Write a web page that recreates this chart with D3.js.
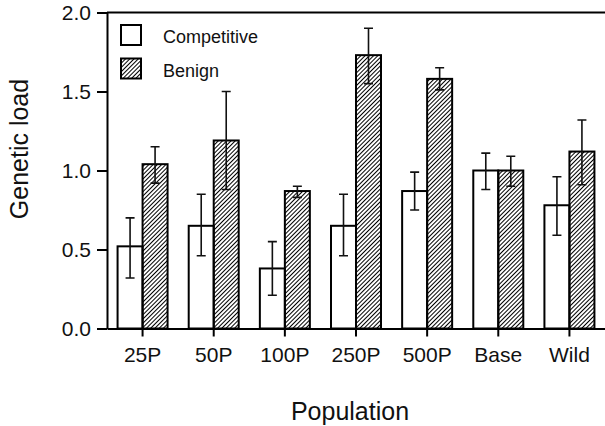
<!DOCTYPE html>
<html>
<head>
<meta charset="utf-8">
<script src="https://cdn.jsdelivr.net/npm/d3@7"></script>
<style>
  body { margin: 0; background: #fff; }
  svg { display: block; font-family: "Liberation Sans", Arial, Helvetica, sans-serif; }
  .axis path, .axis line { stroke: #000; stroke-width: 2; }
  .axis text { font-size: 21px; fill: #111; }
  .bar { stroke: #000; stroke-width: 2; }
  .err { stroke: #111; stroke-width: 1.6; fill: none; }
</style>
</head>
<body>
<div id="chart"></div>
<script>
// Values.
var categories = ['25P', '50P', '100P', '250P', '500P', 'Base', 'Wild'];
var seriesNames = ['Competitive', 'Benign'];

var competitive   = [0.52, 0.65, 0.38, 0.65, 0.87, 1.00, 0.78];
var competitiveLo = [0.32, 0.46, 0.21, 0.46, 0.75, 0.88, 0.59];
var competitiveHi = [0.70, 0.85, 0.55, 0.85, 0.99, 1.11, 0.96];

var benign   = [1.04, 1.19, 0.87, 1.73, 1.58, 1.00, 1.12];
var benignLo = [0.92, 0.88, 0.83, 1.55, 1.51, 0.90, 0.91];
var benignHi = [1.15, 1.50, 0.90, 1.90, 1.65, 1.09, 1.32];

var yTicks = [0, 0.5, 1.0, 1.5, 2.0];

;(function() {
  'use strict';

  var width = 605, height = 426;
  var margin = {top: 12.5, right: 0, bottom: 97.5, left: 107};

  var svg = d3.select('#chart').append('svg')
      .attr('width', width)
      .attr('height', height);

  // Diagonal hatch for the "Benign" bars.
  var defs = svg.append('defs');
  defs.append('pattern')
      .attr('id', 'hatch')
      .attr('patternUnits', 'userSpaceOnUse')
      .attr('width', 3)
      .attr('height', 3)
      .attr('patternTransform', 'rotate(45)')
    .append('line')
      .attr('x1', 0.5).attr('y1', 0)
      .attr('x2', 0.5).attr('y2', 3)
      .attr('stroke', '#000')
      .attr('stroke-width', 1);

  var rows = categories.map(function(c, i) {
    return {
      group: c,
      values: [
        {key: 'Competitive', v: competitive[i], lo: competitiveLo[i], hi: competitiveHi[i]},
        {key: 'Benign', v: benign[i], lo: benignLo[i], hi: benignHi[i]}
      ]
    };
  });

  var x0 = d3.scaleBand()
      .domain(categories)
      .range([margin.left, width - margin.right])
      .padding(0);

  var x1 = d3.scaleBand()
      .domain(seriesNames)
      .range([0, 50]);

  var y = d3.scaleLinear()
      .domain([0, 2])
      .range([height - margin.bottom, margin.top]);

  var fillFor = function(key) { return key === 'Benign' ? 'url(#hatch)' : '#fff'; };

  // Bars.
  var groups = svg.append('g').selectAll('g')
      .data(rows)
      .enter().append('g')
      .attr('transform', function(d) {
        return 'translate(' + (x0(d.group) + x0.bandwidth() / 2 - 25) + ',0)';
      });

  groups.selectAll('rect')
      .data(function(d) { return d.values; })
      .enter().append('rect')
      .attr('class', 'bar')
      .attr('x', function(d) { return x1(d.key); })
      .attr('y', function(d) { return y(d.v); })
      .attr('width', x1.bandwidth())
      .attr('height', function(d) { return y(0) - y(d.v); })
      .attr('fill', function(d) { return fillFor(d.key); });

  // Error bars with caps on both ends.
  var capW = 4.5;
  groups.selectAll('.err')
      .data(function(d) { return d.values; })
      .enter().append('path')
      .attr('class', 'err')
      .attr('d', function(d) {
        var cx = x1(d.key) + x1.bandwidth() / 2;
        return 'M' + cx + ',' + y(d.lo) + 'V' + y(d.hi) +
               'M' + (cx - capW) + ',' + y(d.hi) + 'H' + (cx + capW) +
               'M' + (cx - capW) + ',' + y(d.lo) + 'H' + (cx + capW);
      });

  // Axes.
  var yAxis = d3.axisLeft(y)
      .tickValues(yTicks)
      .tickFormat(d3.format('.1f'))
      .tickSize(10)
      .tickSizeOuter(0)
      .tickPadding(6);

  var xAxis = d3.axisBottom(x0)
      .tickSize(8)
      .tickSizeOuter(0)
      .tickPadding(11);

  svg.append('g')
      .attr('class', 'axis axis-y')
      .attr('transform', 'translate(' + margin.left + ',0)')
      .call(yAxis);

  svg.append('g')
      .attr('class', 'axis axis-x')
      .attr('transform', 'translate(0,' + y(0) + ')')
      .call(xAxis);

  // Top frame line.
  svg.append('line')
      .attr('x1', margin.left).attr('x2', width)
      .attr('y1', y(2)).attr('y2', y(2))
      .attr('stroke', '#000')
      .attr('stroke-width', 2);

  // Axis titles.
  svg.append('text')
      .attr('transform', 'translate(28,149) rotate(-90)')
      .attr('text-anchor', 'middle')
      .style('font-size', '25px')
      .attr('fill', '#111')
      .text('Genetic load');

  svg.append('text')
      .attr('x', 350)
      .attr('y', 420)
      .attr('text-anchor', 'middle')
      .style('font-size', '25px')
      .attr('fill', '#111')
      .text('Population');

  // Legend.
  var legend = svg.append('g')
      .attr('transform', 'translate(121,25)');

  var items = legend.selectAll('g')
      .data(seriesNames)
      .enter().append('g')
      .attr('transform', function(d, i) { return 'translate(0,' + (i * 33.5) + ')'; });

  items.append('rect')
      .attr('width', 20)
      .attr('height', 20)
      .attr('fill', fillFor)
      .attr('stroke', '#000')
      .attr('stroke-width', 2);

  items.append('text')
      .attr('x', 42)
      .attr('y', 18)
      .style('font-size', '18px')
      .attr('fill', '#111')
      .text(function(d) { return d; });
}());
</script>
</body>
</html>
